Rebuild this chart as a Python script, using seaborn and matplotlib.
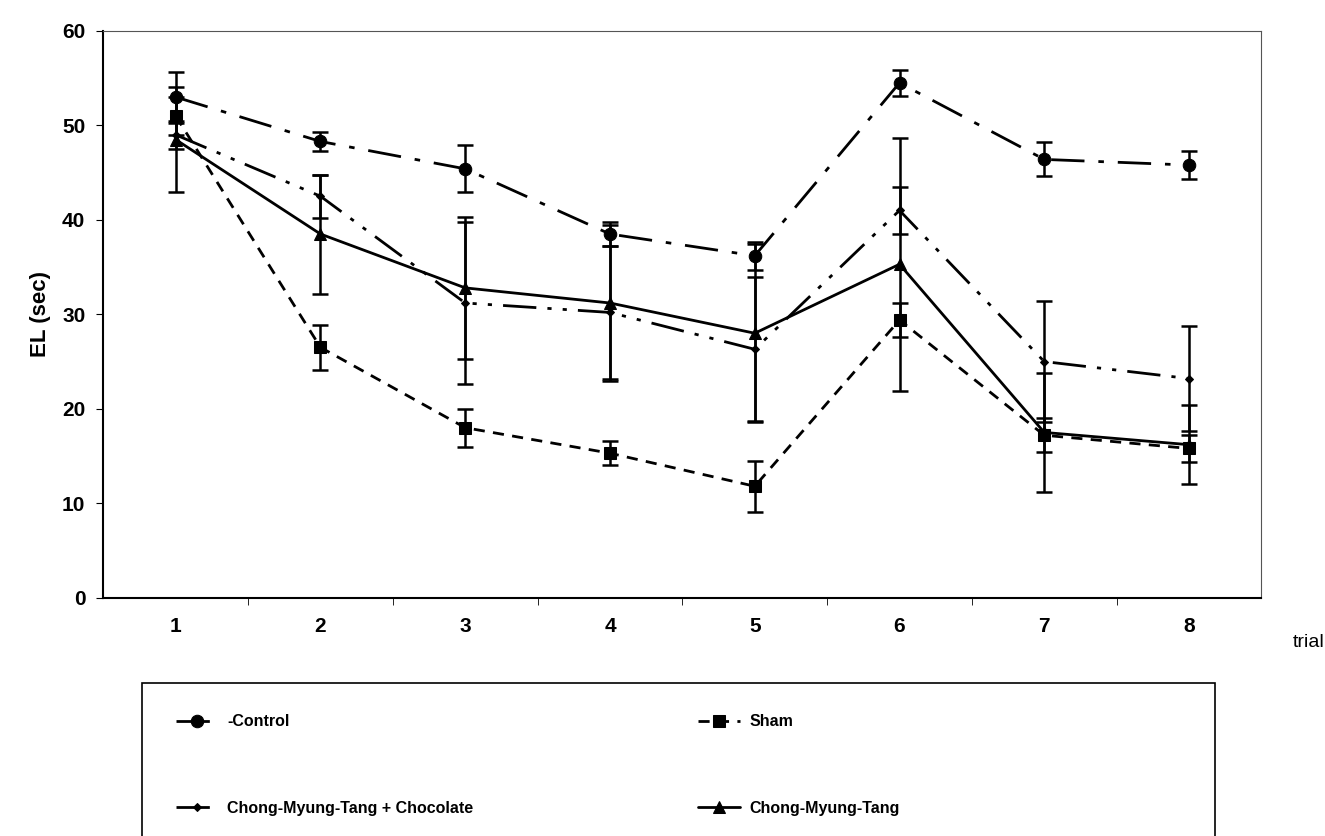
import matplotlib
matplotlib.use("Agg")
import matplotlib.pyplot as plt
import pandas as pd
import seaborn as sns
from matplotlib.ticker import FixedLocator
from matplotlib.patches import Rectangle

# values
trials = [1, 2, 3, 4, 5, 6, 7, 8]
control = [53.0, 48.3, 45.4, 38.5, 36.2, 54.5, 46.4, 45.8]
control_err = [2.7, 1.0, 2.5, 1.3, 1.5, 1.4, 1.8, 1.5]
sham = [51.0, 26.5, 18.0, 15.3, 11.8, 29.4, 17.2, 15.8]
sham_err = [2.0, 2.4, 2.0, 1.3, 2.7, 1.8, 1.8, 1.4]
cmt_choc = [49.0, 42.5, 31.2, 30.2, 26.3, 41.0, 25.0, 23.2]
cmt_choc_err = [1.5, 2.3, 8.6, 7.0, 7.6, 2.5, 6.4, 5.6]
cmt = [48.5, 38.5, 32.8, 31.2, 28.0, 35.3, 17.5, 16.2]
cmt_err = [5.6, 6.3, 7.5, 8.3, 9.4, 13.4, 6.3, 4.2]

labels = ["-Control", "Sham", "Chong-Myung-Tang + Chocolate", "Chong-Myung-Tang"]

sns.set_style("ticks", {"axes.edgecolor": "black", "text.color": "black",
                        "axes.labelcolor": "black", "xtick.color": "black",
                        "ytick.color": "black"})
plt.rcParams['font.family'] = ['Liberation Sans', 'DejaVu Sans']

fig = plt.figure(figsize=(13.25, 8.36), dpi=100)
ax = fig.add_axes([0.078, 0.285, 0.874, 0.678])

series = [
    (labels[0], control, control_err, "o", 9, (0, (12, 5, 2, 5))),
    (labels[1], sham, sham_err, "s", 9, (0, (4, 3))),
    (labels[2], cmt_choc, cmt_choc_err, "D", 4, (0, (12, 4, 1.5, 4, 1.5, 4))),
    (labels[3], cmt, cmt_err, "^", 9, "-"),
]

for name, vals, err, mk, ms, ls in series:
    df = pd.DataFrame({"trial": trials, "EL": vals})
    sns.lineplot(data=df, x="trial", y="EL", ax=ax, color="black", marker=mk,
                 markersize=ms, linewidth=2, linestyle=ls, label=name,
                 markeredgecolor="black")
    ax.errorbar(trials, vals, yerr=err, fmt="none", ecolor="black",
                elinewidth=1.8, capsize=6, capthick=1.8)

ax.set_xlim(0.5, 8.5)
ax.set_ylim(0, 60)
ax.set_yticks([0, 10, 20, 30, 40, 50, 60])
ax.set_xticks(trials)
ax.xaxis.set_minor_locator(FixedLocator([1.5, 2.5, 3.5, 4.5, 5.5, 6.5, 7.5]))
ax.tick_params(axis="x", which="major", length=0, pad=14)
ax.tick_params(axis="x", which="minor", length=5, direction="out")
ax.tick_params(axis="y", length=5, direction="out", pad=8)
for t in ax.get_xticklabels() + ax.get_yticklabels():
    t.set_fontsize(15)
    t.set_fontweight("bold")

ax.set_xlabel("")
ax.set_ylabel("EL (sec)", fontsize=16, fontweight="bold", labelpad=8)
for side in ["left", "bottom"]:
    ax.spines[side].set_linewidth(1.5)
for side in ["top", "right"]:
    ax.spines[side].set_linestyle((0, (1, 1)))
    ax.spines[side].set_linewidth(0.8)
    ax.spines[side].set_color("#555555")

fig.text(0.976, 0.232, "trial", fontsize=14, ha="left", va="center")

ax.get_legend().remove()
handles, lbls = ax.get_legend_handles_labels()

# legend box drawn as a plain rectangle, entries as two one-column legends
fig.patches.append(Rectangle((0.107, -0.02), 0.81, 0.203, transform=fig.transFigure,
                             fill=False, edgecolor="black", linewidth=1.2))
leg_kw = dict(loc="upper left", frameon=False, handlelength=2.6, handletextpad=0.6,
              labelspacing=4.45, borderaxespad=0,
              prop={"size": 11.5, "weight": "bold"})
leg1 = fig.legend([handles[0], handles[2]], [lbls[0], lbls[2]],
                  bbox_to_anchor=(0.128, 0.153), **leg_kw)
leg2 = fig.legend([handles[1], handles[3]], [lbls[1], lbls[3]],
                  bbox_to_anchor=(0.522, 0.153), **leg_kw)

fig.savefig("out.png", dpi=100)
